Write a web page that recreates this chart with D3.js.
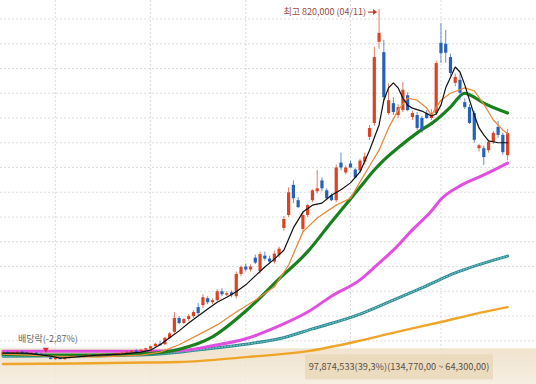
<!DOCTYPE html>
<html>
<head>
<meta charset="utf-8">
<script src="https://cdn.jsdelivr.net/npm/d3@7"></script>
<style>
  html, body { margin: 0; padding: 0; background: #fff; }
  svg { display: block; }
  text { font-family: "Noto Sans CJK KR", "Noto Sans", sans-serif; }
</style>
</head>
<body>
<div id="chart"></div>
<script>
// daily candles, [open, high, low, close] in thousands of won
var ohlc = [
    [126,128,124,127], [127,129,125,126], [126,128,124,127], [127,129,126,128], [128,130,126,126],
    [126,128,124,125], [125,127,123,126], [126,128,124,124], [124,126,121,122], [122,124,118,119],
    [116,119,113,114], [114,117,111,116], [116,118,113,114], [114,117,112,116], [116,119,114,118],
    [118,121,116,120], [120,122,117,118], [118,121,116,120], [120,123,118,122], [122,124,119,120],
    [120,123,118,122], [122,125,120,123], [123,125,120,121], [121,124,119,123], [123,126,121,125],
    [125,128,123,126], [126,129,124,128], [128,131,126,130], [130,133,128,129], [129,133,127,132],
    [132,136,130,135], [134,140,133,139], [139,146,138,144], [144,150,141,143], [143,158,142,156],
    [156,168,154,165], [168,208,163,196], [196,200,183,186], [186,196,184,194], [194,204,190,200],
    [200,212,196,208], [218,226,202,206], [222,244,216,238], [236,240,224,228], [228,236,224,232],
    [232,254,230,250], [250,256,240,244], [244,250,240,246], [248,252,238,242], [240,290,236,285],
    [285,302,280,299], [300,306,290,294], [294,304,290,300], [318,324,305,308], [291,330,286,325],
    [322,330,312,316], [316,322,306,310], [310,332,306,326], [324,340,318,336], [378,402,372,396],
    [404,460,400,450], [465,474,428,438], [434,440,418,420], [376,410,370,404], [404,426,400,424],
    [434,456,430,454], [452,495,448,458], [474,480,452,458], [454,458,434,438], [444,448,432,434],
    [434,506,430,500], [510,530,494,500], [490,504,486,500], [508,514,500,500], [496,500,478,480],
    [494,518,490,514], [512,530,506,522], [562,586,556,580], [590,744,584,723], [754,820,740,772],
    [733,758,636,642], [610,670,606,636], [630,642,606,612], [606,628,600,622], [616,673,612,657],
    [646,652,614,616], [602,614,596,610], [606,612,576,580], [600,604,570,576], [610,616,598,600],
    [600,618,596,610], [610,716,606,711], [752,792,711,731], [750,778,712,732], [723,730,686,691],
    [671,690,664,683], [677,690,636,651], [632,640,618,622], [622,628,588,590], [610,614,550,556],
    [539,548,532,545], [539,544,505,521], [535,556,530,552], [552,574,548,570], [582,594,560,566],
    [566,570,526,531], [525,578,515,570]
];

// first trading day of each month (candle index)
var monthStarts = [11, 31, 51, 73, 92];
var gridPrices = d3.range(100, 801, 50);

// moving averages, [candle index, price]
var ma5 = [[0,125],[5,125],[10,119],[12,115],[15,117],[20,121],[25,123],[29,127],[31,131],[33,142],
    [35,156],[37,170],[39,186],[41,200],[43,214],[45,228],[47,238],[49,249],[51,263],[53,281],[55,299],
    [57,315],[59,333],[61,378],[63,410],[65,424],[67,428],[69,444],[71,455],[73,469],[75,491],[77,535],
    [78,560],[79,586],[80,636],[81,661],[82,671],[83,661],[84,640],[85,626],[86,620],[88,614],[90,604],
    [91,608],[92,626],[93,661],[95,703],[96,693],[97,667],[98,636],[99,606],[100,580],[101,566],
    [102,554],[104,550],[106,550]];
var ma10 = [[0,123],[10,119],[20,117],[29,121],[33,127],[37,142],[41,162],[45,182],[49,208],[53,232],
    [57,259],[60,303],[63,370],[66,398],[70,424],[73,438],[75,471],[77,503],[79,535],[81,580],[83,616],
    [85,640],[87,636],[89,620],[90,606],[92,636],[94,650],[97,661],[99,655],[101,628],[103,596],
    [105,576],[106,568]];
var ma20 = [[0,123],[10,121],[20,121],[30,124],[37,133],[44,158],[51,210],[58,275],[64,330],[69,390],
    [75,460],[78,495],[80,515],[83,540],[87,570],[91,596],[94,622],[97,650],[98,647],[101,630],[106,610]];
var ma60 = [[0,129],[15,129],[30,129],[37,130],[44,140],[51,154],[58,180],[64,208],[69,240],[75,273],
    [79,307],[82,333],[86,374],[90,412],[92,436],[96,463],[101,485],[106,509]];
var ma120 = [[0,119],[15,120],[30,122],[37,127],[44,135],[51,143],[58,154],[65,174],[75,204],[81,228],
    [88,257],[95,287],[106,321]];
var ma240 = [[0,103],[15,104],[30,106],[37,107],[51,117],[64,129],[74,148],[81,164],[92,188],[99,204],
    [106,218]];

var highMark = { index: 79, price: 820, label: '최고 820,000 (04/11)' };
var exDiv = { index: 9, label: '배당락(-2,87%)' };
var priceBand = { top: 134.77, bottom: 64.3, label: '97,874,533(39,3%)(134,770,00 ~ 64,300,00)' };

var width = 536, height = 384;

var svg = d3.select('#chart').append('svg')
    .attr('width', width)
    .attr('height', height);

var x = d3.scaleLinear().domain([0, ohlc.length - 1]).range([3, 507.6]);
var y = d3.scaleLinear().domain([62.7, 838.4]).range([height, 0]);

// grid
svg.append('g').selectAll('line.h')
    .data(gridPrices)
    .enter().append('line')
    .attr('x1', 0).attr('x2', width)
    .attr('y1', function(d) { return y(d); })
    .attr('y2', function(d) { return y(d); })
    .attr('stroke', '#dcdcdc')
    .attr('stroke-dasharray', '2,2');

svg.append('g').selectAll('line.v')
    .data(monthStarts)
    .enter().append('line')
    .attr('x1', function(d) { return x(d); })
    .attr('x2', function(d) { return x(d); })
    .attr('y1', 0).attr('y2', height)
    .attr('stroke', '#dcdcdc')
    .attr('stroke-dasharray', '2,2');

// price range band
var defs = svg.append('defs');
var grad = defs.append('linearGradient').attr('id', 'band').attr('x1', 0).attr('x2', 0).attr('y1', 0).attr('y2', 1);
grad.append('stop').attr('offset', '0%').attr('stop-color', '#eedfc6').attr('stop-opacity', 0.85);
grad.append('stop').attr('offset', '100%').attr('stop-color', '#f5ecdd').attr('stop-opacity', 0.85);

svg.append('rect')
    .attr('x', 0)
    .attr('y', y(priceBand.top))
    .attr('width', width)
    .attr('height', y(priceBand.bottom) - y(priceBand.top) + 1)
    .attr('fill', 'url(#band)');

var smooth = d3.line()
    .x(function(d) { return x(d[0]); })
    .y(function(d) { return y(d[1]); })
    .curve(d3.curveMonotoneX);

var straight = d3.line()
    .x(function(d) { return x(d[0]); })
    .y(function(d) { return y(d[1]); });

function drawLine(data, gen, color, w) {
    return svg.append('path')
        .datum(data)
        .attr('d', gen)
        .attr('fill', 'none')
        .attr('stroke', color)
        .attr('stroke-width', w)
        .attr('stroke-linejoin', 'round')
        .attr('stroke-linecap', 'round');
}

drawLine(ma240, smooth, '#eea52a', 2.4);
drawLine(ma120, smooth, '#2f8d94', 3);
drawLine(ma120, smooth, '#8fd0d3', 1).attr('stroke-dasharray', '1,2');
drawLine(ma60, smooth, '#e24fe0', 3);
drawLine(ma20, smooth, '#18801c', 3.2);

// candles
var up = '#dd4223', down = '#2461b8';
var candles = svg.append('g').selectAll('g')
    .data(ohlc)
    .enter().append('g');

candles.append('line')
    .attr('x1', function(d, i) { return x(i); })
    .attr('x2', function(d, i) { return x(i); })
    .attr('y1', function(d) { return y(d[1]); })
    .attr('y2', function(d) { return y(d[2]); })
    .attr('stroke', function(d) { return d[3] >= d[0] ? up : down; })
    .attr('stroke-opacity', 0.7)
    .attr('stroke-width', 1);

candles.append('rect')
    .attr('x', function(d, i) { return x(i) - 1.6; })
    .attr('width', 3.2)
    .attr('y', function(d) { return y(Math.max(d[0], d[3])); })
    .attr('height', function(d) { return Math.max(1.5, Math.abs(y(d[0]) - y(d[3]))); })
    .attr('fill', function(d) { return d[3] >= d[0] ? up : down; });

drawLine(ma10, straight, '#e58d3c', 1.3);
drawLine(ma5, straight, '#111', 1.2);

// high annotation
var hx = x(highMark.index), hy = y(highMark.price);
svg.append('text')
    .attr('x', hx - 13)
    .attr('y', hy + 6)
    .attr('text-anchor', 'end')
    .attr('font-size', 9)
    .attr('fill', '#a24a3e')
    .text(highMark.label);
svg.append('line')
    .attr('x1', hx - 11).attr('x2', hx - 3)
    .attr('y1', hy + 3).attr('y2', hy + 3)
    .attr('stroke', '#c8392b').attr('stroke-width', 1.2);
svg.append('path')
    .attr('d', 'M' + (hx - 2) + ',' + (hy + 3) + 'l-4,-3v6z')
    .attr('fill', '#c8392b');

// ex-dividend annotation
var ex = x(exDiv.index), ey = y(ohlc[exDiv.index][1]);
svg.append('text')
    .attr('x', ex + 2)
    .attr('y', ey - 12)
    .attr('text-anchor', 'middle')
    .attr('font-size', 9)
    .attr('fill', '#666')
    .text(exDiv.label);
svg.append('path')
    .attr('d', 'M' + (ex - 3) + ',' + (ey - 6) + 'h6l-3,5z')
    .attr('fill', '#e0243a');

// price band info box
var boxCx = 399;
svg.append('rect')
    .attr('x', boxCx - 94)
    .attr('y', y(priceBand.top) + 6)
    .attr('width', 188)
    .attr('height', 25)
    .attr('fill', '#ead9bb')
    .attr('opacity', 0.9);
svg.append('text')
    .attr('x', boxCx)
    .attr('y', y(priceBand.top) + 22)
    .attr('text-anchor', 'middle')
    .attr('font-size', 9.2)
    .attr('fill', '#5a5048')
    .text(priceBand.label);
</script>
</body>
</html>
